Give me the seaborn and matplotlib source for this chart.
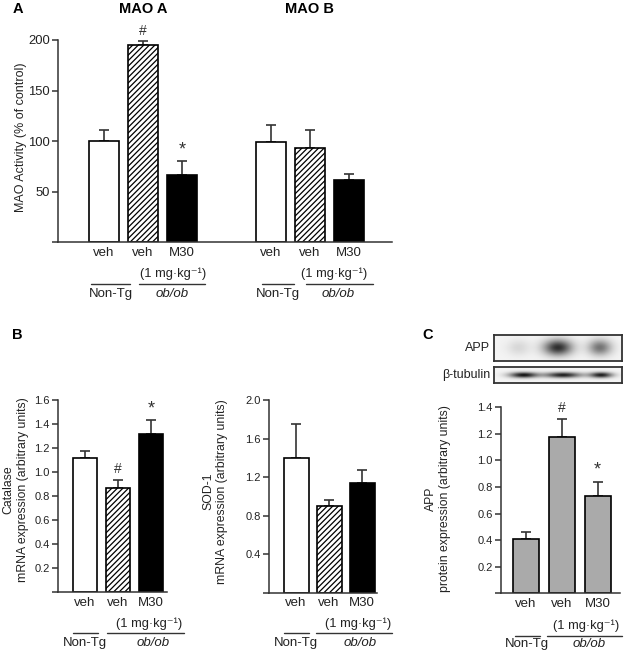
import numpy as np
import pandas as pd
import matplotlib
matplotlib.use("Agg")
import matplotlib.pyplot as plt
import seaborn as sns

# ---------------- data ----------------
treatments = ["Non-Tg veh", "ob/ob veh", "ob/ob M30"]
tick_labels = ["veh", "veh", "M30"]

mao_a = [100, 195.5, 66]
mao_a_err = [11, 3.5, 14]
mao_a_marks = ["", "#", "*"]
mao_b = [99, 93, 61.5]
mao_b_err = [17, 18, 5.5]
mao_b_marks = ["", "", ""]

catalase = [1.115, 0.865, 1.315]
catalase_err = [0.06, 0.07, 0.12]
catalase_marks = ["", "#", "*"]

sod1 = [1.40, 0.905, 1.14]
sod1_err = [0.35, 0.06, 0.13]
sod1_marks = ["", "", ""]

app = [0.41, 1.175, 0.73]
app_err = [0.055, 0.14, 0.11]
app_marks = ["", "#", "*"]

app_band = [0.12, 0.85, 0.55]
tubulin_band = [0.95, 0.9, 0.9]

# ---------------- style ----------------
sns.set_style("ticks")
plt.rcParams["font.family"] = ["Liberation Sans", "DejaVu Sans"]
plt.rcParams["hatch.linewidth"] = 0.9
plt.rcParams["text.color"] = "#222222"
plt.rcParams["axes.edgecolor"] = "#333333"
plt.rcParams["xtick.color"] = "#333333"
plt.rcParams["ytick.color"] = "#333333"

W, H = 626, 651
fig = plt.figure(figsize=(W / 100, H / 100), dpi=100)
fig.patch.set_facecolor("white")

TXT = "#222222"


def add_ax(x0, ytop, x1, ybot):
    ax = fig.add_axes([x0 / W, 1 - ybot / H, (x1 - x0) / W, (ybot - ytop) / H])
    ax.set_facecolor("white")
    return ax, (ybot - ytop)


def bar_panel(ax, positions, values, errs, fills, hatch_idx, width):
    df = pd.DataFrame({"pos": positions, "val": values,
                       "grp": [treatments[i % 3] for i in range(len(values))]})
    pal = {t: c for t, c in zip(treatments, fills)}
    sns.barplot(data=df, x="pos", y="val", hue="grp", hue_order=treatments,
                palette=pal, native_scale=True, dodge=False, width=width,
                saturation=1, errorbar=None, legend=False, ax=ax,
                edgecolor="black", linewidth=1.2, zorder=2)
    if hatch_idx is not None:
        for p in ax.containers[hatch_idx]:
            p.set_hatch("//////")
    ax.errorbar(positions, values, yerr=[np.zeros(len(values)), errs],
                fmt="none", ecolor="#333333", elinewidth=1.2, capsize=3.5,
                capthick=1.2, zorder=1)
    sns.despine(ax=ax)
    ax.spines["left"].set_linewidth(1.1)
    ax.spines["bottom"].set_linewidth(1.1)
    ax.set_xlabel("")


def marks(ax, positions, values, errs, syms):
    for x, v, e, s in zip(positions, values, errs, syms):
        if s == "#":
            ax.annotate(s, (x, v + e), xytext=(0, 2.5), textcoords="offset points",
                        ha="center", va="bottom", fontsize=10, color="#333333")
        elif s == "*":
            ax.annotate(s, (x, v + e), xytext=(0, 2.0), textcoords="offset points",
                        ha="center", va="bottom", fontsize=13, color="#333333")


def group_text(ax, hpx, x_first, spec):
    tr = ax.get_xaxis_transform()
    nt_x, nt_half, ob_line_x, ob_half, mg_x, ob_x, d_mg, d_line, d_nt = spec
    ax.text(x_first + mg_x, -d_mg / hpx, "(1 mg·kg⁻¹)", transform=tr,
            ha="center", va="center", fontsize=9.3, color=TXT)
    ax.plot([x_first + nt_x - nt_half, x_first + nt_x + nt_half],
            [-d_line / hpx] * 2, transform=tr, color="#333333", lw=1.0,
            clip_on=False)
    ax.plot([x_first + ob_line_x - ob_half, x_first + ob_line_x + ob_half],
            [-d_line / hpx] * 2, transform=tr, color="#333333", lw=1.0,
            clip_on=False)
    ax.text(x_first + nt_x, -d_nt / hpx, "Non-Tg", transform=tr,
            ha="center", va="center", fontsize=9.5, color=TXT)
    ax.text(x_first + ob_x, -d_nt / hpx, "ob/ob", transform=tr,
            ha="center", va="center", fontsize=9.5, color=TXT, style="italic")


def yaxis_fmt(ax, ticks, fmt, size):
    ax.set_yticks(ticks)
    ax.set_yticklabels(["" if t == 0 else fmt.format(t) for t in ticks])
    ax.tick_params(axis="y", direction="out", length=4, width=1.1,
                   labelsize=size, pad=2, labelcolor=TXT)


def xaxis_fmt(ax, positions, labels, pad):
    ax.set_xticks(positions)
    ax.set_xticklabels(labels)
    ax.tick_params(axis="x", length=0, labelsize=9.5, pad=pad, labelcolor=TXT)


# ---------------- Panel A ----------------
axA, hA = add_ax(58, 40, 392, 242)
posA = [0, 1, 2, 4.27, 5.27, 6.27]
bar_panel(axA, posA, mao_a + mao_b, mao_a_err + mao_b_err,
          ["white", "white", "black"], 1, 0.77)
axA.set_ylim(0, 200)
axA.set_xlim(-1.18, 7.38)
yaxis_fmt(axA, [0, 50, 100, 150, 200], "{:.0f}", 9.4)
xaxis_fmt(axA, posA, tick_labels * 2, 3.5)
marks(axA, posA, mao_a + mao_b, mao_a_err + mao_b_err, mao_a_marks + mao_b_marks)
axA.set_ylabel("MAO Activity (% of control)", fontsize=9, color=TXT)
axA.yaxis.set_label_coords(-0.093, 0.517)
group_text(axA, hA, 0, (0.17, 0.5, 1.74, 0.85, 1.78, 1.74, 32, 42, 52))
group_text(axA, hA, 4.27, (0.19, 0.42, 1.76, 0.86, 1.62, 1.73, 32, 42, 52))
trA = axA.get_xaxis_transform()
axA.text(1, 1 + (40 - 9) / hA, "MAO A", transform=trA, ha="center",
         va="center", fontsize=10.5, fontweight="bold", color="black")
axA.text(5.27, 1 + (40 - 9) / hA, "MAO B", transform=trA, ha="center",
         va="center", fontsize=10.5, fontweight="bold", color="black")
fig.text(18 / W, 1 - 9 / H, "A", ha="center", va="center", fontsize=10.5,
         fontweight="bold", color="black")

# ---------------- Panel B (catalase) ----------------
axB1, hB1 = add_ax(58, 400, 167, 592.4)
posB = [0, 1, 2]
bar_panel(axB1, posB, catalase, catalase_err, ["white", "white", "black"], 1, 0.74)
axB1.set_ylim(0, 1.6)
axB1.set_xlim(-0.82, 2.48)
yaxis_fmt(axB1, [0, 0.2, 0.4, 0.6, 0.8, 1.0, 1.2, 1.4, 1.6], "{:.1f}", 8)
xaxis_fmt(axB1, posB, tick_labels, 3.2)
marks(axB1, posB, catalase, catalase_err, catalase_marks)
axB1.set_ylabel("Catalase\nmRNA expression (arbitrary units)", fontsize=8.8,
                color=TXT, linespacing=1.25)
axB1.yaxis.set_label_coords(-0.27, 0.535)
group_text(axB1, hB1, 0, (0.0, 0.38, 1.82, 1.17, 1.95, 2.05, 31.6, 40.6, 50.6))
fig.text(17 / W, 1 - 335 / H, "B", ha="center", va="center", fontsize=10.5,
         fontweight="bold", color="black")

# ---------------- Panel B (SOD-1) ----------------
axB2, hB2 = add_ax(269, 400, 377, 593)
bar_panel(axB2, posB, sod1, sod1_err, ["white", "white", "black"], 1, 0.76)
axB2.set_ylim(0, 2.0)
axB2.set_xlim(-0.82, 2.45)
yaxis_fmt(axB2, [0, 0.4, 0.8, 1.2, 1.6, 2.0], "{:.1f}", 8)
xaxis_fmt(axB2, posB, tick_labels, 3.2)
marks(axB2, posB, sod1, sod1_err, sod1_marks)
axB2.set_ylabel("SOD-1\nmRNA expression (arbitrary units)", fontsize=8.8,
                color=TXT, linespacing=1.25)
axB2.yaxis.set_label_coords(-0.375, 0.526)
group_text(axB2, hB2, 0, (0.0, 0.38, 1.76, 1.15, 1.89, 1.94, 31, 40, 50))

# ---------------- Panel C (APP) ----------------
axC, hC = add_ax(501, 407.3, 620, 593.3)
bar_panel(axC, posB, app, app_err, ["#aaaaaa"] * 3, None, 0.72)
axC.set_ylim(0, 1.4)
axC.set_xlim(-0.68, 2.62)
yaxis_fmt(axC, [0, 0.2, 0.4, 0.6, 0.8, 1.0, 1.2, 1.4], "{:.1f}", 8)
xaxis_fmt(axC, posB, tick_labels, 3.5)
marks(axC, posB, app, app_err, app_marks)
axC.set_ylabel("APP\nprotein expression (arbitrary units)", fontsize=8.8,
               color=TXT, linespacing=1.25)
axC.yaxis.set_label_coords(-0.416, 0.51)
group_text(axC, hC, 0, (0.05, 0.34, 1.64, 1.04, 1.67, 1.75, 32.5, 42.5, 50.5))
fig.text(428 / W, 1 - 335 / H, "C", ha="center", va="center", fontsize=10.5,
         fontweight="bold", color="black")


# ---------------- Western blot strips ----------------
def blot(x0, ytop, x1, ybot, lanes, amps, widths, sy, label):
    ax, h = add_ax(x0, ytop, x1, ybot)
    w = int(x1 - x0)
    hh = int(round(ybot - ytop))
    xx, yy = np.meshgrid(np.linspace(0, 1, w), np.linspace(0, 1, hh))
    img = np.full_like(xx, 0.05)
    for cx, a, sx in zip(lanes, amps, widths):
        img += a * np.exp(-((xx - cx) / sx) ** 2 - ((yy - 0.5) / sy) ** 2)
    ax.imshow(np.clip(img, 0, 1), cmap="gray_r", vmin=0, vmax=1.1,
              aspect="auto", extent=(0, 1, 0, 1), interpolation="bilinear")
    ax.set_xticks([])
    ax.set_yticks([])
    for s in ax.spines.values():
        s.set_visible(True)
        s.set_linewidth(1.3)
        s.set_color("#333333")
    fig.text((x0 - 4) / W, 1 - (ytop + ybot) / 2 / H, label, ha="right",
             va="center", fontsize=9, color=TXT)


blot(494, 335, 622, 361, [0.19, 0.5, 0.83], app_band, [0.09, 0.11, 0.09], 0.3,
     "APP")
blot(494, 367, 622, 383, [0.23, 0.54, 0.84], tubulin_band, [0.11, 0.14, 0.09],
     0.19, "β-tubulin")

fig.savefig("out.png", dpi=100, facecolor="white")
